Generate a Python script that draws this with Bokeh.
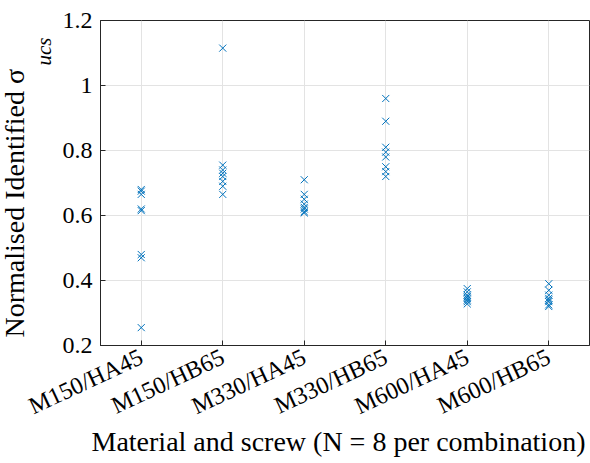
import math
from bokeh.plotting import figure
from bokeh.models import ColumnDataSource, FactorRange, Range1d, FixedTicker, Title
from bokeh.embed import file_html
from bokeh.resources import INLINE

categories = ["M150/HA45", "M150/HB65", "M330/HA45", "M330/HB65", "M600/HA45", "M600/HB65"]
m150_ha45 = [0.68, 0.675, 0.665, 0.62, 0.615, 0.48, 0.47, 0.255]
m150_hb65 = [1.115, 0.755, 0.74, 0.73, 0.72, 0.705, 0.69, 0.665]
m330_ha45 = [0.71, 0.665, 0.65, 0.635, 0.625, 0.62, 0.612, 0.608]
m330_hb65 = [0.96, 0.89, 0.81, 0.795, 0.78, 0.75, 0.735, 0.72]
m600_ha45 = [0.375, 0.365, 0.355, 0.35, 0.345, 0.34, 0.335, 0.328]
m600_hb65 = [0.39, 0.37, 0.355, 0.345, 0.34, 0.335, 0.325, 0.32]
y_ticks = [0.2, 0.4, 0.6, 0.8, 1.0, 1.2]
y_tick_labels = ["0.2", "0.4", "0.6", "0.8", "1", "1.2"]

series = [m150_ha45, m150_hb65, m330_ha45, m330_hb65, m600_ha45, m600_hb65]
xs, ys = [], []
for cat, vals in zip(categories, series):
    xs += [cat] * len(vals)
    ys += vals
src = ColumnDataSource(dict(x=xs, y=ys))

FONT = "Liberation Serif"
DARK = "#262626"

p = figure(width=590, height=463, x_range=FactorRange(*categories, range_padding=0),
           y_range=Range1d(0.2, 1.2), output_backend="svg", toolbar_location=None,
           min_border_left=99, min_border_top=20, min_border_bottom=118, min_border_right=1)

p.scatter("x", "y", source=src, marker="x", size=10, line_color="#0072BD", line_width=1)

p.outline_line_color = DARK
p.outline_line_width = 1
p.background_fill_color = "white"
p.border_fill_color = "white"

for g in (p.xgrid, p.ygrid):
    g.grid_line_color = "#e3e3e3"
    g.grid_line_width = 1

ya = p.yaxis[0]
ya.ticker = FixedTicker(ticks=y_ticks)
ya.major_label_overrides = {t: l for t, l in zip(y_ticks, y_tick_labels)}
ya.minor_tick_line_color = None
ya.major_tick_in = 5
ya.major_tick_out = 0
ya.axis_line_color = DARK
ya.major_tick_line_color = DARK
ya.major_label_text_font = FONT
ya.major_label_text_font_size = "24px"
ya.major_label_text_color = "black"
ya.major_label_standoff = 8

xa = p.xaxis[0]
xa.major_tick_in = 5
xa.major_tick_out = 0
xa.axis_line_color = DARK
xa.major_tick_line_color = DARK
xa.major_label_text_font = FONT
xa.major_label_text_font_size = "24px"
xa.major_label_text_color = "black"
xa.major_label_orientation = math.radians(25)
xa.major_label_standoff = 10

# x-axis title as a below-panel title
xtitle = Title(text="Material and screw (N = 8 per combination)", align="left", offset=-9,
               standoff=-20, text_font=FONT, text_font_size="28px", text_font_style="normal",
               text_color="black")
p.add_layout(xtitle, "below")

# y-axis title: main text plus italic subscript, as side-panel titles
ysub = Title(text="ucs", align="left", offset=280, standoff=8,
             text_font=FONT, text_font_size="21px", text_font_style="italic", text_color="black")
ymain = Title(text="Normalised Identified σ", align="left", offset=8, standoff=-8,
              text_font=FONT, text_font_size="28px", text_font_style="normal", text_color="black")
p.add_layout(ysub, "left")
p.add_layout(ymain, "left")

open("out.html", "w").write(file_html(p, INLINE))
